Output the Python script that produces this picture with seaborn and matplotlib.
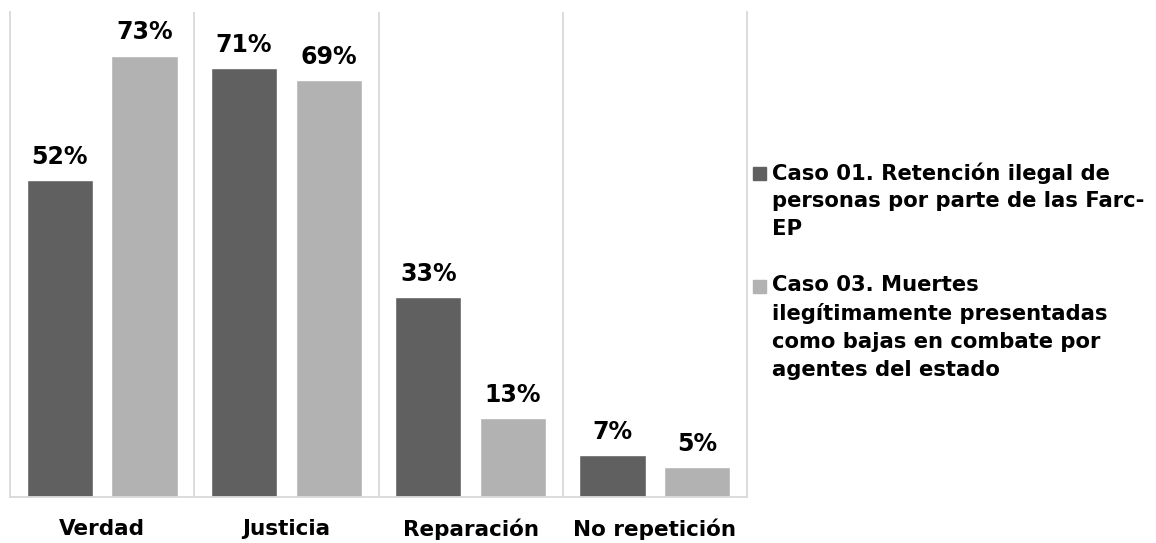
import matplotlib
matplotlib.use('Agg')
import matplotlib.pyplot as plt
from matplotlib.patches import Rectangle
import seaborn as sns
import pandas as pd

categorias = ['Verdad', 'Justicia', 'Reparación', 'No repetición']
casos = ['Caso 01. Retención ilegal de\npersonas por parte de las Farc-\nEP',
         'Caso 03. Muertes\nilegítimamente presentadas\ncomo bajas en combate por\nagentes del estado']
caso_01 = [52.4, 71, 33, 7]
caso_03 = [73, 69, 13, 5]
colores = ['#606060', '#b2b2b2']

df = pd.DataFrame({
    'categoria': categorias * 2,
    'caso': [casos[0]] * 4 + [casos[1]] * 4,
    'valor': caso_01 + caso_03,
})

sns.set_style('white')
plt.rcParams['font.family'] = ['DejaVu Sans']
plt.rcParams['text.color'] = 'black'
plt.rcParams['xtick.color'] = 'black'

W, H = 1156, 543
fig = plt.figure(figsize=(W / 100, H / 100), dpi=100)
ax = fig.add_axes([10 / W, 46 / H, 737 / W, 485 / H])

sns.barplot(data=df, x='categoria', y='valor', hue='caso', order=categorias,
            hue_order=casos, palette=colores, width=0.92, gap=0.22,
            saturation=1, errorbar=None, legend=False, ax=ax)

for cont in ax.containers:
    ax.bar_label(cont, labels=[f'{round(v):.0f}%' for v in cont.datavalues],
                 padding=8, fontsize=17, fontweight='bold', color='black')

ax.set_xlim(-0.5, 3.5)
ax.set_ylim(0, 80.2)
ax.set_xlabel('')
ax.set_ylabel('')
ax.set_yticks([])
ax.set_xticks(range(4))
ax.set_xticklabels(categorias, fontsize=15.5, fontweight='bold', color='black')
ax.tick_params(axis='x', length=0, pad=15.5)
ax.set_xticks([0.5, 1.5, 2.5], minor=True)
ax.tick_params(axis='x', which='minor', length=0)
ax.grid(axis='x', which='minor', color='#d9d9d9', linewidth=1.3)
for s in ['left', 'right', 'bottom']:
    ax.spines[s].set_visible(True)
    ax.spines[s].set_color('#d9d9d9')
    ax.spines[s].set_linewidth(1.3)
ax.spines['top'].set_visible(False)

# leyenda a la derecha, cuadro alineado con la primera linea
tops = [162, 275]
for caso, color, yt in zip(casos, colores, tops):
    fig.text(772 / W, 1 - yt / H, caso, fontsize=15.2, fontweight='bold',
             color='black', va='top', ha='left', linespacing=1.49)
    fig.patches.append(Rectangle((753 / W, 1 - (yt + 18) / H), 13 / W, 13 / H,
                                 transform=fig.transFigure, color=color))

fig.savefig('out.png', dpi=100)
